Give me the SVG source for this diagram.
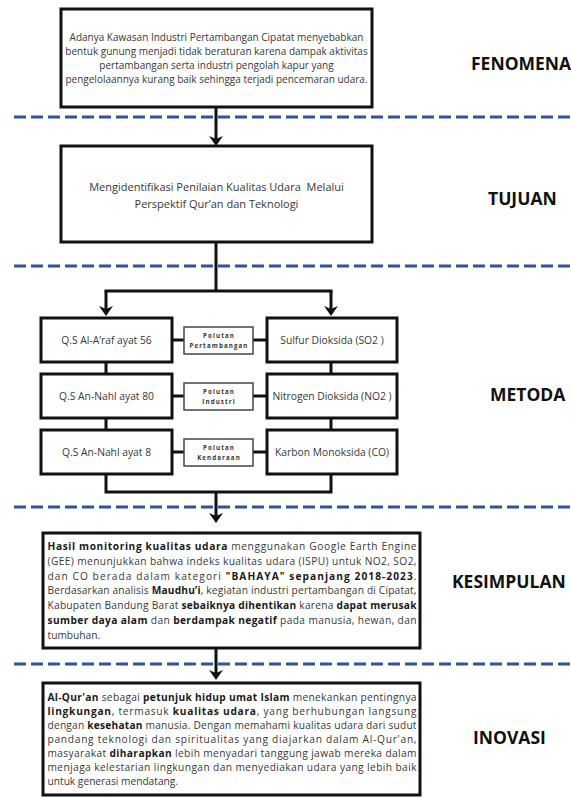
<svg xmlns="http://www.w3.org/2000/svg" width="571" height="798" viewBox="0 0 571 798">
<style>
.box{fill:#fff;stroke:#111;stroke-width:3}
.sbox{fill:#fff;stroke:#444;stroke-width:1.5}
.t{font-family:"Open Sans","Liberation Sans",sans-serif;fill:#383838}
.c{text-anchor:middle}
.b{font-weight:bold;fill:#1a1a1a}
.lbl{font-family:"Open Sans","Liberation Sans",sans-serif;font-weight:bold;font-size:17.5px;fill:#111}
.sm{font-family:"Open Sans","Liberation Sans",sans-serif;font-weight:bold;font-size:6.2px;letter-spacing:1.1px;fill:#333;text-anchor:middle}
.con{fill:none;stroke:#111;stroke-width:3}
.sep{stroke:#2F5597;stroke-width:3;stroke-dasharray:12 5}
</style>
<defs>
<marker id="ah" markerUnits="userSpaceOnUse" markerWidth="10" markerHeight="14" viewBox="0 0 10 14" refX="6" refY="7" orient="auto">
<path d="M0,0 L10,7 L0,14 L3,7 Z" fill="#111"/>
</marker>
</defs>
<g id="separators">
<line class="sep" x1="14" y1="117" x2="571" y2="117"/>
<line class="sep" x1="14" y1="266" x2="571" y2="266"/>
<line class="sep" x1="14" y1="507" x2="571" y2="507"/>
<line class="sep" x1="14" y1="664" x2="571" y2="664"/>
</g>
<g id="connectors">
<line class="con" x1="216" y1="107" x2="216" y2="142" marker-end="url(#ah)"/>
<line class="con" x1="216" y1="242" x2="216" y2="291"/>
<line class="con" x1="104.5" y1="291" x2="332.5" y2="291"/>
<line class="con" x1="106" y1="291" x2="106" y2="312" marker-end="url(#ah)"/>
<line class="con" x1="331" y1="291" x2="331" y2="312" marker-end="url(#ah)"/>
<line class="con" x1="106" y1="362" x2="106" y2="374"/>
<line class="con" x1="106" y1="418" x2="106" y2="430"/>
<line class="con" x1="331" y1="362" x2="331" y2="374"/>
<line class="con" x1="331" y1="418" x2="331" y2="430"/>
<line class="con" x1="172" y1="340" x2="184" y2="340"/>
<line class="con" x1="253" y1="340" x2="267" y2="340"/>
<line class="con" x1="172" y1="396" x2="184" y2="396"/>
<line class="con" x1="253" y1="396" x2="267" y2="396"/>
<line class="con" x1="172" y1="452" x2="184" y2="452"/>
<line class="con" x1="253" y1="452" x2="267" y2="452"/>
<polyline class="con" points="106,474 106,492 331,492 331,474"/>
<line class="con" x1="216" y1="492" x2="216" y2="519" marker-end="url(#ah)"/>
<line class="con" x1="216" y1="648" x2="216" y2="676" marker-end="url(#ah)"/>
</g>
<g id="fenomena">
<rect class="box" x="61" y="9" width="311" height="98"/>
<text class="t c" font-size="10"><tspan x="216.5" y="40.5">Adanya Kawasan Industri Pertambangan Cipatat menyebabkan</tspan><tspan x="216.5" y="54.5">bentuk gunung menjadi tidak beraturan karena dampak aktivitas</tspan><tspan x="216.5" y="68.5">pertambangan serta industri pengolah kapur yang</tspan><tspan x="216.5" y="82.5">pengelolaannya kurang baik sehingga terjadi pencemaran udara.</tspan></text>
</g>
<g id="tujuan">
<rect class="box" x="61" y="146" width="311" height="96"/>
<text class="t c" font-size="11" xml:space="preserve"><tspan x="216.5" y="191">Mengidentifikasi Penilaian Kualitas Udara  Melalui</tspan><tspan x="216.5" y="208">Perspektif Qur’an dan Teknologi</tspan></text>
</g>
<g id="qs-araf">
<rect class="box" x="41" y="318" width="131" height="44"/>
<text class="t c" font-size="10.3" x="106.5" y="344">Q.S Al-A’raf ayat 56</text>
</g>
<g id="polutan-pertambangan">
<rect class="sbox" x="184" y="327" width="69" height="27"/>
<text class="sm" x="219" y="338">Polutan</text>
<text class="sm" x="219" y="347.5">Pertambangan</text>
</g>
<g id="so2">
<rect class="box" x="267" y="318" width="130" height="44"/>
<text class="t c" font-size="10.3" x="332" y="344">Sulfur Dioksida (SO2 )</text>
</g>
<g id="qs-nahl80">
<rect class="box" x="41" y="374" width="131" height="44"/>
<text class="t c" font-size="10.3" x="106.5" y="400">Q.S An-Nahl ayat 80</text>
</g>
<g id="polutan-industri">
<rect class="sbox" x="184" y="383" width="69" height="27"/>
<text class="sm" x="219" y="394">Polutan</text>
<text class="sm" x="219" y="403.5">Industri</text>
</g>
<g id="no2">
<rect class="box" x="267" y="374" width="130" height="44"/>
<text class="t c" font-size="10.3" x="332" y="400">Nitrogen Dioksida (NO2 )</text>
</g>
<g id="qs-nahl8">
<rect class="box" x="41" y="430" width="131" height="44"/>
<text class="t c" font-size="10.3" x="106.5" y="456">Q.S An-Nahl ayat 8</text>
</g>
<g id="polutan-kendaraan">
<rect class="sbox" x="184" y="439" width="69" height="27"/>
<text class="sm" x="219" y="450">Polutan</text>
<text class="sm" x="219" y="459.5">Kendaraan</text>
</g>
<g id="co">
<rect class="box" x="267" y="430" width="130" height="44"/>
<text class="t c" font-size="10.3" x="332" y="456">Karbon Monoksida (CO)</text>
</g>
<g id="kesimpulan">
<rect class="box" x="43" y="533" width="377" height="115"/>
<g class="t" font-size="10.2">
<text x="47.5" y="550" textLength="369" lengthAdjust="spacing"><tspan class="b">Hasil monitoring kualitas udara</tspan> menggunakan Google Earth Engine</text>
<text x="47.5" y="564.8" textLength="369" lengthAdjust="spacing">(GEE) menunjukkan bahwa indeks kualitas udara (ISPU) untuk NO2, SO2,</text>
<text x="47.5" y="579.6" textLength="369" lengthAdjust="spacing">dan CO berada dalam kategori <tspan class="b">"BAHAYA" sepanjang 2018-2023</tspan>.</text>
<text x="47.5" y="594.4" textLength="369" lengthAdjust="spacing">Berdasarkan analisis <tspan class="b">Maudhu’i</tspan>, kegiatan industri pertambangan di Cipatat,</text>
<text x="47.5" y="609.2" textLength="369" lengthAdjust="spacing">Kabupaten Bandung Barat <tspan class="b">sebaiknya dihentikan</tspan> karena <tspan class="b">dapat merusak</tspan></text>
<text x="47.5" y="624" textLength="369" lengthAdjust="spacing"><tspan class="b">sumber daya alam</tspan> dan <tspan class="b">berdampak negatif</tspan> pada manusia, hewan, dan</text>
<text x="47.5" y="638.8">tumbuhan.</text>
</g>
</g>
<g id="inovasi">
<rect class="box" x="43" y="683" width="377" height="112"/>
<g class="t" font-size="10.2">
<text x="47.5" y="701" textLength="369" lengthAdjust="spacing"><tspan class="b">Al-Qur'an</tspan> sebagai <tspan class="b">petunjuk hidup umat Islam</tspan> menekankan pentingnya</text>
<text x="47.5" y="715" textLength="369" lengthAdjust="spacing"><tspan class="b">lingkungan</tspan>, termasuk <tspan class="b">kualitas udara</tspan>, yang berhubungan langsung</text>
<text x="47.5" y="729" textLength="369" lengthAdjust="spacing">dengan <tspan class="b">kesehatan</tspan> manusia. Dengan memahami kualitas udara dari sudut</text>
<text x="47.5" y="743" textLength="369" lengthAdjust="spacing">pandang teknologi dan spiritualitas yang diajarkan dalam Al-Qur'an,</text>
<text x="47.5" y="757" textLength="369" lengthAdjust="spacing">masyarakat <tspan class="b">diharapkan</tspan> lebih menyadari tanggung jawab mereka dalam</text>
<text x="47.5" y="771" textLength="369" lengthAdjust="spacing">menjaga kelestarian lingkungan dan menyediakan udara yang lebih baik</text>
<text x="47.5" y="785">untuk generasi mendatang.</text>
</g>
</g>
<g id="labels">
<text class="lbl" x="471" y="70">FENOMENA</text>
<text class="lbl" x="488" y="205">TUJUAN</text>
<text class="lbl" x="490" y="401">METODA</text>
<text class="lbl" x="452" y="588">KESIMPULAN</text>
<text class="lbl" x="473" y="744">INOVASI</text>
</g>
</svg>
